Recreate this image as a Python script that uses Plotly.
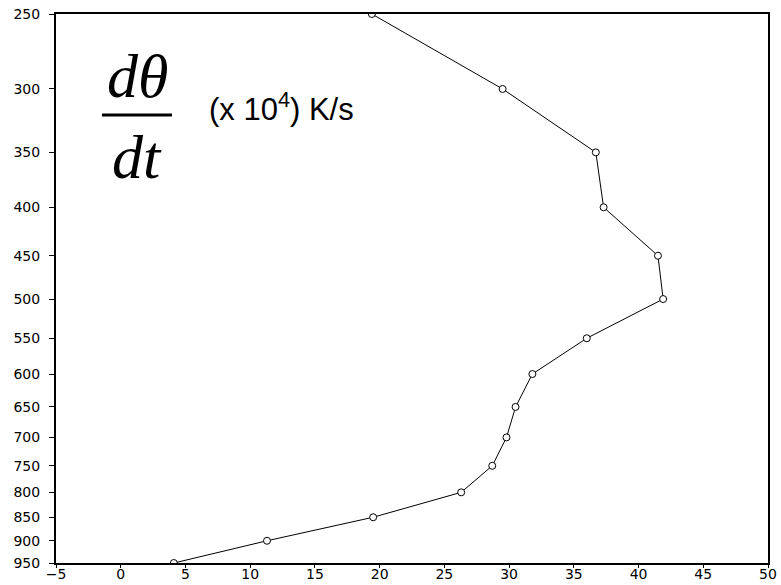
import plotly.graph_objects as go

pressure = [250, 300, 350, 400, 450, 500, 550, 600, 650, 700, 750, 800, 850, 900, 950]
dtheta_dt = [19.4, 29.5, 36.7, 37.3, 41.5, 41.9, 36.0, 31.8, 30.5, 29.8, 28.7, 26.3, 19.5, 11.3, 4.1]
x_ticks = list(range(-5, 51, 5))
y_ticks = list(range(250, 951, 50))

fig = go.Figure()
fig.add_trace(go.Scatter(
    x=dtheta_dt, y=pressure, mode="lines+markers",
    line=dict(color="black", width=1),
    marker=dict(symbol="circle", size=7, color="white", line=dict(color="black", width=1)),
    showlegend=False,
))

axis_font = dict(family="DejaVu Sans", size=14, color="black")
fig.update_layout(
    width=781, height=585,
    margin=dict(l=56, r=13, t=14, b=22, autoexpand=False),
    paper_bgcolor="white", plot_bgcolor="white",
    xaxis=dict(range=[-5, 50], tickvals=x_ticks, ticks="outside", ticklen=3, tickwidth=1,
               tickcolor="black", showgrid=False, zeroline=False, showline=True, linecolor="black",
               linewidth=2, mirror=True, tickfont=axis_font, automargin=False,
               ticklabelstandoff=-6),
    yaxis=dict(type="log", range=[2.977723605, 2.397940009], tickvals=y_ticks,
               ticktext=[str(v) for v in y_ticks], ticks="outside", ticklen=5, tickwidth=1,
               tickcolor="black", showgrid=False, zeroline=False, showline=True, linecolor="black",
               linewidth=2, mirror=True, tickfont=axis_font, automargin=False,
               ticklabelstandoff=6),
)

serif_it = dict(family="Liberation Serif", size=62, color="black", style="italic")
fig.add_annotation(xref="paper", yref="paper", x=0.1138, y=0.887, xanchor="center", yanchor="middle",
                   text="dθ", showarrow=False, font=serif_it)
fig.add_annotation(xref="paper", yref="paper", x=0.1138, y=0.7395, xanchor="center", yanchor="middle",
                   text="dt", showarrow=False, font=serif_it)
fig.add_shape(type="line", xref="paper", yref="paper", x0=0.0646, x1=0.1629, y0=0.816, y1=0.816,
              line=dict(color="black", width=3))
fig.add_annotation(xref="paper", yref="paper", x=0.212, y=0.83, xanchor="left", yanchor="middle",
                   text="(x 10<sup>4</sup>) K/s", showarrow=False,
                   font=dict(family="Liberation Sans", size=31, color="black"))

fig.write_html("out.html", config={"displayModeBar": False},
               post_script="document.body.style.margin='0';document.body.style.overflow='hidden';")
